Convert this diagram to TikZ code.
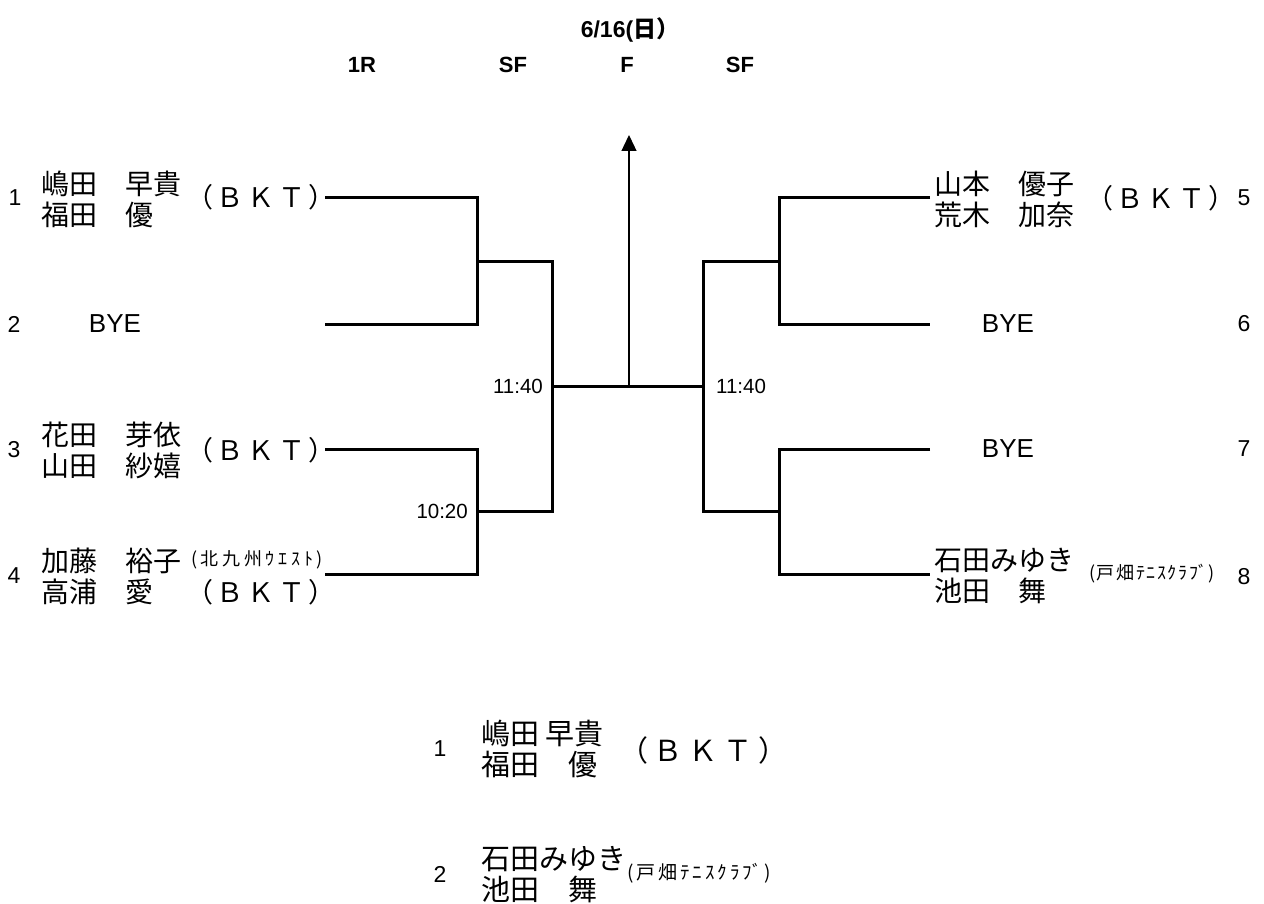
\documentclass[tikz,border=0pt]{standalone}
\usepackage{fontspec}
\setmainfont{Liberation Sans}
\newfontfamily\jp{Noto Sans CJK JP}
\usetikzlibrary{arrows.meta}
\newcommand\bkt[1]{\makebox[#1][s]{（\hfill Ｂ\hfill Ｋ\hfill Ｔ\hfill ）}}
\newcommand\kita[1]{\makebox[#1][s]{(\hfill 北\hfill 九\hfill 州\hfill ｳ\hfill ｴ\hfill ｽ\hfill ﾄ\hfill )}}
\newcommand\tobata[1]{\makebox[#1][s]{(\hfill 戸\hfill 畑\hfill ﾃ\hfill ﾆ\hfill ｽ\hfill ｸ\hfill ﾗ\hfill ﾌﾞ\hfill )}}
\tikzset{
  numlbl/.style={font=\fontsize{23}{23}\selectfont, inner sep=0pt},
  pname/.style={font=\jp\fontsize{28}{31}\selectfont, align=left, anchor=west, inner sep=0pt},
  team/.style={font=\jp\fontsize{27}{27}\selectfont, inner sep=0pt},
  club/.style={font=\jp\fontsize{18}{18}\selectfont, inner sep=0pt},
  byelbl/.style={font=\fontsize{26}{26}\selectfont, inner sep=0pt},
  timelbl/.style={font=\fontsize{20.5}{20.5}\selectfont, inner sep=0pt},
  headlbl/.style={font=\bfseries\fontsize{22}{22}\selectfont, inner sep=0pt},
  bracket/.style={line width=3pt}}
\begin{document}
\begin{tikzpicture}[x=1pt,y=-1pt]
\useasboundingbox[fill=white] (0,0) rectangle (1264,904);

% headers
\node[headlbl, font=\bfseries\fontsize{23}{23}\selectfont] (date) at (630,30) {6/16(\jp\bfseries 日）};
\node[headlbl] (h1) at (362,65) {1R};
\node[headlbl] (h2) at (513,65) {SF};
\node[headlbl] (h3) at (627,65) {F};
\node[headlbl] (h4) at (740,65) {SF};

% left side entries
\node[numlbl] (n1) at (15,198) {1};
\node[pname] (p1) at (41,199) {嶋田　早貴\\福田　優};
\node[team] (t1) at (261,197) {\bkt{150pt}};
\node[numlbl] (n2) at (14,324) {2};
\node[byelbl] (b2) at (115,324) {BYE};
\node[numlbl] (n3) at (14,450) {3};
\node[pname] (p3) at (41,450) {花田　芽依\\山田　紗嬉};
\node[team] (t3) at (261,450) {\bkt{150pt}};
\node[numlbl] (n4) at (14,576) {4};
\node[pname] (p4) at (41,576) {加藤　裕子\\高浦　愛};
\node[club] (c4) at (257,560) {\kita{132pt}};
\node[team] (t4) at (261,592) {\bkt{150pt}};

% right side entries
\node[pname] (p5) at (934,199) {山本　優子\\荒木　加奈};
\node[team] (t5) at (1161,198) {\bkt{150pt}};
\node[numlbl] (n5) at (1244,198) {5};
\node[byelbl] (b6) at (1008,324) {BYE};
\node[numlbl] (n6) at (1244,324) {6};
\node[byelbl] (b7) at (1008,449) {BYE};
\node[numlbl] (n7) at (1244,449) {7};
\node[pname] (p8) at (934,576) {石田みゆき\\池田　舞};
\node[club] (c8) at (1152,574) {\tobata{126pt}};
\node[numlbl] (n8) at (1244,577) {8};

% times
\node[timelbl, anchor=east] (tm1) at (543,386) {11:40};
\node[timelbl, anchor=west] (tm2) at (716,386) {11:40};
\node[timelbl, anchor=east] (tm3) at (468,511) {10:20};

% bracket coordinates
\coordinate (L1) at (325,198); \coordinate (L2) at (325,324);
\coordinate (L3) at (325,449); \coordinate (L4) at (325,574);
\coordinate (R1) at (930,198); \coordinate (R2) at (930,324);
\coordinate (R3) at (930,449); \coordinate (R4) at (930,574);
\coordinate (champ) at (629,135);
\coordinate (fc) at (629,386);

\draw[bracket] (L1) -- (477,198) -- (477,324) -- (L2);
\draw[bracket] (L3) -- (477,449) -- (477,574) -- (L4);
\draw[bracket] (477,262) -- (552,262) -- (552,511) -- (477,511);
\draw[bracket] (R1) -- (779,198) -- (779,324) -- (R2);
\draw[bracket] (R3) -- (779,449) -- (779,574) -- (R4);
\draw[bracket] (779,262) -- (703,262) -- (703,511) -- (779,511);
\draw[bracket] (552,386) -- (705,386);
\draw[line width=1.3pt, -{Triangle[length=16pt,width=15pt]}] (fc) -- (champ);

% results
\node[numlbl] (r1) at (440,749) {1};
\node[pname, font=\jp\fontsize{29}{31}\selectfont] (rp1) at (481,749) {嶋田 早貴\\福田　優};
\node[team, font=\jp\fontsize{29}{29}\selectfont] (rt1) at (703,750) {\bkt{168pt}};
\node[numlbl] (r2) at (440,874) {2};
\node[pname, font=\jp\fontsize{29}{31}\selectfont] (rp2) at (481,875) {石田みゆき\\池田　舞};
\node[club, font=\jp\fontsize{19}{19}\selectfont] (rc2) at (699,873) {\tobata{144pt}};
\end{tikzpicture}
\end{document}
